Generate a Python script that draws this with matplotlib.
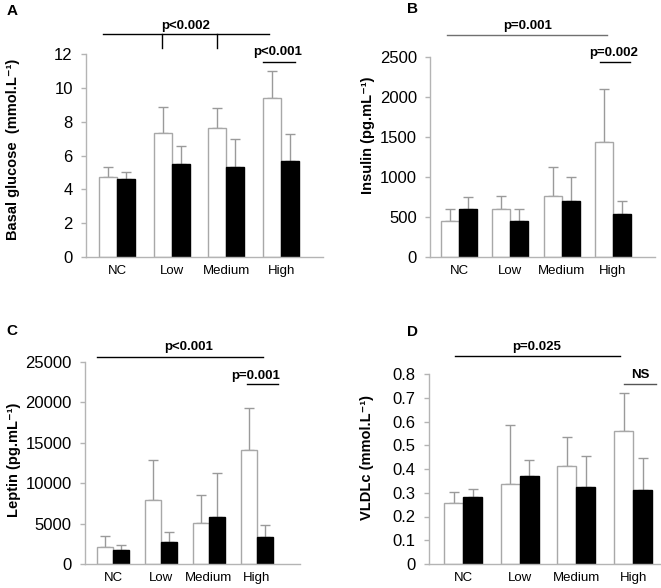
import matplotlib
matplotlib.use("Agg")
import matplotlib.pyplot as plt
import numpy as np

plt.rcParams['font.family'] = ['Liberation Sans', 'DejaVu Sans']

categories = ["NC", "Low", "Medium", "High"]

# Panel A: basal glucose (mmol/L)
glu_white = [4.75, 7.33, 7.6, 9.4]
glu_white_err = [0.57, 1.54, 1.2, 1.6]
glu_black = [4.63, 5.5, 5.3, 5.67]
glu_black_err = [0.37, 1.08, 1.68, 1.62]

# Panel B: insulin (pg/mL)
ins_white = [453, 598, 764, 1433]
ins_white_err = [153, 170, 366, 664]
ins_black = [598, 453, 698, 536]
ins_black_err = [158, 145, 307, 158]

# Panel C: leptin (pg/mL)
lep_white = [2060, 7910, 5030, 14170]
lep_white_err = [1360, 4940, 3460, 5190]
lep_black = [1730, 2760, 5770, 3380]
lep_black_err = [620, 1150, 5440, 1440]

# Panel D: VLDLc (mmol/L)
vl_white = [0.255, 0.335, 0.413, 0.559]
vl_white_err = [0.05, 0.25, 0.123, 0.16]
vl_black = [0.283, 0.369, 0.323, 0.313]
vl_black_err = [0.031, 0.07, 0.133, 0.135]

W, H = 661, 588
fig = plt.figure(figsize=(W / 100, H / 100), dpi=100)

SPINE = '#b4b4b4'
ERR = '#9a9a9a'
EDGE = '#a8a8a8'


def px_axes(left, right, top, bottom):
    return fig.add_axes([left / W, 1 - bottom / H, (right - left) / W, (bottom - top) / H])


def panel(ax, white, werr, black, berr, ylim, yticks, yticklabels, xlim, bw,
          tickfs=12, catfs=9.5):
    x = np.arange(len(categories))
    ax.bar(x - bw / 2, white, width=bw, color='white', edgecolor=EDGE, linewidth=1.0, zorder=2)
    ax.bar(x + bw / 2, black, width=bw, color='black', edgecolor='black', linewidth=1.0, zorder=2)
    ax.errorbar(x - bw / 2, white, yerr=[np.zeros(4), werr], fmt='none', ecolor=ERR,
                elinewidth=1.0, capsize=3.5, capthick=1.0, zorder=1)
    ax.errorbar(x + bw / 2, black, yerr=[np.zeros(4), berr], fmt='none', ecolor=ERR,
                elinewidth=1.0, capsize=3.5, capthick=1.0, zorder=1)
    ax.set_xlim(*xlim)
    ax.set_ylim(*ylim)
    ax.set_yticks(yticks)
    ax.set_yticklabels(yticklabels, fontsize=tickfs)
    ax.set_xticks(x)
    ax.set_xticklabels(categories, fontsize=catfs)
    ax.tick_params(axis='x', length=0, pad=6)
    ax.tick_params(axis='y', length=3.5, color=SPINE, width=1.0, pad=6)
    for s in ['top', 'right']:
        ax.spines[s].set_visible(False)
    for s in ['left', 'bottom']:
        ax.spines[s].set_color(SPINE)
        ax.spines[s].set_linewidth(1.0)


def hline(ax, x0, x1, y, color='black', lw=1.0):
    ax.plot([x0, x1], [y, y], color=color, lw=lw, clip_on=False, zorder=3)


def vline(ax, x, y0, y1, color='black', lw=1.0):
    ax.plot([x, x], [y0, y1], color=color, lw=lw, clip_on=False, zorder=3)


def ptext(ax, x, y, s, fs=9.5):
    ax.text(x, y, s, ha='center', va='center', fontsize=fs, fontweight='bold', clip_on=False)


# ---- A ----
axA = px_axes(86, 323, 54, 257)
panel(axA, glu_white, glu_white_err, glu_black, glu_black_err, (0, 12),
      [0, 2, 4, 6, 8, 10, 12], ['0', '2', '4', '6', '8', '10', '12'],
      (-0.567, 3.766), 0.33)
hline(axA, -0.256, 2.78, 13.18)
vline(axA, 0.82, 13.18, 12.35)
vline(axA, 1.83, 13.18, 12.35)
ptext(axA, 1.26, 13.65, 'p<0.002')
ptext(axA, 2.93, 12.1, 'p<0.001')
hline(axA, 2.67, 3.25, 11.52)

# ---- B ----
axB = px_axes(430, 655, 57, 257)
panel(axB, ins_white, ins_white_err, ins_black, ins_black_err, (0, 2500),
      [0, 500, 1000, 1500, 2000, 2500], ['0', '500', '1000', '1500', '2000', '2500'],
      (-0.565, 3.82), 0.35)
hline(axB, -0.234, 2.885, 2775, color='#707070')
ptext(axB, 1.33, 2888, 'p=0.001')
ptext(axB, 3.02, 2550, 'p=0.002')
hline(axB, 2.75, 3.33, 2437)

# ---- C ----
axC = px_axes(85, 300, 362, 564)
panel(axC, lep_white, lep_white_err, lep_black, lep_black_err, (0, 25000),
      [0, 5000, 10000, 15000, 20000, 25000], ['0', '5000', '10000', '15000', '20000', '25000'],
      (-0.583, 3.9), 0.33)
hline(axC, -0.333, 3.125, 25620)
ptext(axC, 1.58, 26860, 'p<0.001')
ptext(axC, 2.98, 23270, 'p=0.001')
hline(axC, 2.79, 3.44, 22280)

# ---- D ----
axD = px_axes(429, 662, 374, 564)
panel(axD, vl_white, vl_white_err, vl_black, vl_black_err, (0, 0.8),
      [0, 0.1, 0.2, 0.3, 0.4, 0.5, 0.6, 0.7, 0.8],
      ['0', '0.1', '0.2', '0.3', '0.4', '0.5', '0.6', '0.7', '0.8'],
      (-0.6, 3.51), 0.335)
hline(axD, -0.14, 2.77, 0.876)
ptext(axD, 1.305, 0.914, 'p=0.025')
ptext(axD, 3.12, 0.796, 'NS')
hline(axD, 2.84, 3.4, 0.758, color='#555555')


def ylab(xc, yc, s):
    fig.text(xc / W, 1 - yc / H, s, rotation=90, ha='center', va='center',
             fontsize=10.5, fontweight='bold')


ylab(13, 149, 'Basal glucose  (mmol.L\u207b\u00b9)')
ylab(368, 135, 'Insulin (pg.mL\u207b\u00b9)')
ylab(14, 460, 'Leptin (pg.mL\u207b\u00b9)')
ylab(367, 458, 'VLDLc (mmol.L\u207b\u00b9)')

for (xc, yc, s) in [(12, 11, 'A'), (413, 9, 'B'), (12, 331, 'C'), (413, 332, 'D')]:
    fig.text(xc / W, 1 - yc / H, s, ha='center', va='center', fontsize=11, fontweight='bold')

fig.savefig('out.png', dpi=100)
